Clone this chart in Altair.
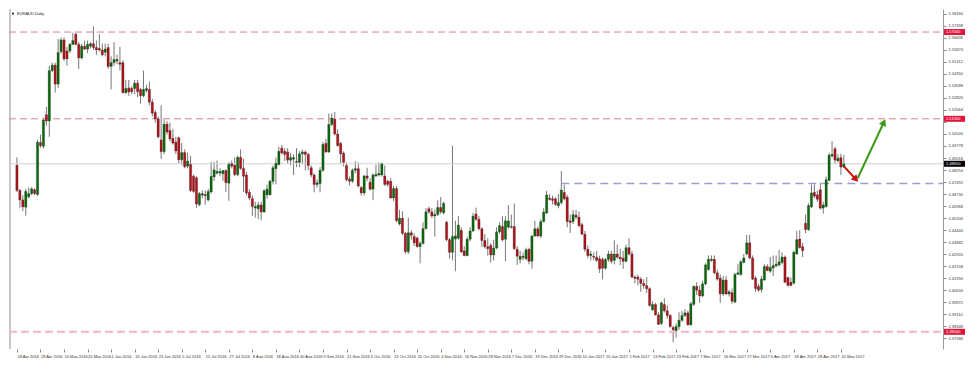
import json
import altair as alt
import pandas as pd

# ---------------- data (EURAUD daily candles) ----------------
opens = [
    1.4856, 1.4696, 1.4636, 1.4590, 1.4656, 1.4676, 1.4700, 1.4670, 1.5000, 1.4976,
    1.5176, 1.5136, 1.5456, 1.5490, 1.5370, 1.5576, 1.5650, 1.5580, 1.5580, 1.5622,
    1.5686, 1.5622, 1.5536, 1.5610, 1.5592, 1.5610, 1.5626, 1.5602, 1.5596, 1.5586,
    1.5572, 1.5602, 1.5482, 1.5506, 1.5516, 1.5506, 1.5506, 1.5316, 1.5346, 1.5342,
    1.5342, 1.5376, 1.5336, 1.5296, 1.5330, 1.5336, 1.5256, 1.5190, 1.5150, 1.5016,
    1.4942, 1.5116, 1.5076, 1.5026, 1.5002, 1.5030, 1.4890, 1.4936, 1.4850, 1.4862,
    1.4786, 1.4776, 1.4606, 1.4666, 1.4670, 1.4636, 1.4686, 1.4782, 1.4806, 1.4806,
    1.4802, 1.4822, 1.4742, 1.4866, 1.4856, 1.4796, 1.4906, 1.4836, 1.4794, 1.4684,
    1.4644, 1.4584, 1.4580, 1.4604, 1.4560, 1.4668, 1.4668, 1.4754, 1.4834, 1.4860,
    1.4964, 1.4944, 1.4940, 1.4888, 1.4894, 1.4880, 1.4874, 1.4928, 1.4940, 1.4924,
    1.4840, 1.4794, 1.4734, 1.4740, 1.4824, 1.4994, 1.4940, 1.5114, 1.5148, 1.5054,
    1.4994, 1.4932, 1.4854, 1.4768, 1.4754, 1.4824, 1.4834, 1.4714, 1.4680, 1.4788,
    1.4748, 1.4704, 1.4788, 1.4794, 1.4794, 1.4788, 1.4754, 1.4754, 1.4648, 1.4708,
    1.4484, 1.4520, 1.4424, 1.4308, 1.4428, 1.4404, 1.4394, 1.4340, 1.4360, 1.4454,
    1.4580, 1.4560, 1.4534, 1.4544, 1.4588, 1.4554, 1.4494, 1.4384, 1.4304, 1.4388,
    1.4393, 1.4443, 1.4313, 1.4283, 1.4387, 1.4439, 1.4547, 1.4513, 1.4453, 1.4379,
    1.4339, 1.4347, 1.4287, 1.4331, 1.4433, 1.4467, 1.4387, 1.4463, 1.4467, 1.4467,
    1.4323, 1.4259, 1.4279, 1.4263, 1.4323, 1.4247, 1.4407, 1.4453, 1.4407, 1.4499,
    1.4553, 1.4647, 1.4643, 1.4643, 1.4599, 1.4619, 1.4683, 1.4653, 1.4503, 1.4499,
    1.4539, 1.4527, 1.4479, 1.4419, 1.4323, 1.4283, 1.4279, 1.4273, 1.4263, 1.4259,
    1.4203, 1.4259, 1.4293, 1.4253, 1.4293, 1.4273, 1.4267, 1.4247, 1.4333, 1.4293,
    1.4147, 1.4147, 1.4133, 1.4107, 1.4093, 1.4073, 1.3939, 1.3973, 1.3907, 1.3853,
    1.3973, 1.3933, 1.3903, 1.3827, 1.3807, 1.3833, 1.3873, 1.3904, 1.3920, 1.3844,
    1.3974, 1.4088, 1.4064, 1.4028, 1.4104, 1.4194, 1.4252, 1.4260, 1.4174, 1.4140,
    1.4040, 1.4128, 1.4040, 1.4048, 1.3988, 1.4164, 1.4164, 1.4240, 1.4294, 1.4364,
    1.4268, 1.4140, 1.4088, 1.4068, 1.4128, 1.4214, 1.4184, 1.4204, 1.4218, 1.4224,
    1.4240, 1.4274, 1.4144, 1.4114, 1.4108, 1.4294, 1.4388, 1.4340, 1.4488, 1.4448,
    1.4592, 1.4684, 1.4668, 1.4700, 1.4584, 1.4594, 1.4760, 1.4914, 1.4960, 1.4884,
    1.4904, 1.4844,
]
highs = [
    1.4906, 1.4706, 1.4666, 1.4706, 1.4716, 1.4716, 1.4710, 1.5016, 1.5050, 1.5156,
    1.5226, 1.5486, 1.5506, 1.5506, 1.5656, 1.5666, 1.5666, 1.5606, 1.5630, 1.5696,
    1.5696, 1.5636, 1.5626, 1.5646, 1.5646, 1.5636, 1.5736, 1.5646, 1.5686, 1.5626,
    1.5626, 1.5626, 1.5546, 1.5636, 1.5556, 1.5606, 1.5522, 1.5396, 1.5396, 1.5356,
    1.5396, 1.5396, 1.5346, 1.5456, 1.5366, 1.5386, 1.5276, 1.5206, 1.5166, 1.5236,
    1.5146, 1.5136, 1.5126, 1.5086, 1.5036, 1.5036, 1.4996, 1.4956, 1.4936, 1.4916,
    1.4796, 1.4786, 1.4686, 1.4696, 1.4696, 1.4706, 1.4876, 1.4876, 1.4886, 1.4836,
    1.4826, 1.4830, 1.4876, 1.4886, 1.4906, 1.4916, 1.4956, 1.4896, 1.4814, 1.4704,
    1.4664, 1.4624, 1.4624, 1.4624, 1.4704, 1.4734, 1.4764, 1.4854, 1.4904, 1.4974,
    1.4984, 1.4964, 1.4964, 1.4934, 1.4924, 1.4964, 1.4944, 1.4954, 1.4948, 1.4934,
    1.4854, 1.4804, 1.4764, 1.4844, 1.5004, 1.5024, 1.5184, 1.5184, 1.5194, 1.5084,
    1.5004, 1.4944, 1.4874, 1.4784, 1.4834, 1.4880, 1.4874, 1.4724, 1.4794, 1.4840,
    1.4774, 1.4804, 1.4860, 1.4874, 1.4874, 1.4854, 1.4764, 1.4774, 1.4724, 1.4724,
    1.4574, 1.4564, 1.4434, 1.4524, 1.4444, 1.4424, 1.4404, 1.4374, 1.4494, 1.4584,
    1.4594, 1.4584, 1.4574, 1.4634, 1.4654, 1.4624, 1.4504, 1.4394, 1.4980, 1.4504,
    1.4533, 1.4463, 1.4343, 1.4403, 1.4463, 1.4553, 1.4587, 1.4533, 1.4463, 1.4419,
    1.4393, 1.4363, 1.4383, 1.4463, 1.4493, 1.4533, 1.4533, 1.4603, 1.4543, 1.4613,
    1.4343, 1.4313, 1.4303, 1.4333, 1.4333, 1.4413, 1.4503, 1.4467, 1.4513, 1.4583,
    1.4693, 1.4673, 1.4663, 1.4653, 1.4673, 1.4819, 1.4733, 1.4667, 1.4543, 1.4573,
    1.4573, 1.4563, 1.4493, 1.4439, 1.4347, 1.4313, 1.4303, 1.4313, 1.4283, 1.4273,
    1.4267, 1.4313, 1.4313, 1.4379, 1.4353, 1.4327, 1.4313, 1.4353, 1.4393, 1.4313,
    1.4159, 1.4163, 1.4147, 1.4133, 1.4147, 1.4083, 1.3993, 1.3983, 1.3923, 1.3993,
    1.4013, 1.3967, 1.3913, 1.3839, 1.3853, 1.3923, 1.3933, 1.3944, 1.3934, 1.3988,
    1.4094, 1.4114, 1.4094, 1.4124, 1.4234, 1.4284, 1.4284, 1.4284, 1.4194, 1.4164,
    1.4154, 1.4154, 1.4064, 1.4074, 1.4174, 1.4228, 1.4254, 1.4294, 1.4414, 1.4414,
    1.4284, 1.4154, 1.4104, 1.4154, 1.4228, 1.4228, 1.4274, 1.4284, 1.4284, 1.4320,
    1.4304, 1.4284, 1.4148, 1.4144, 1.4314, 1.4440, 1.4444, 1.4364, 1.4544, 1.4614,
    1.4734, 1.4734, 1.4694, 1.4744, 1.4624, 1.4784, 1.4934, 1.5008, 1.4974, 1.4924,
    1.4928, 1.4920,
]
lows = [
    1.4686, 1.4586, 1.4566, 1.4536, 1.4646, 1.4666, 1.4666, 1.4662, 1.4966, 1.4962,
    1.5106, 1.5036, 1.5446, 1.5316, 1.5346, 1.5562, 1.5516, 1.5486, 1.5566, 1.5616,
    1.5616, 1.5466, 1.5526, 1.5586, 1.5566, 1.5596, 1.5586, 1.5556, 1.5576, 1.5546,
    1.5546, 1.5466, 1.5336, 1.5486, 1.5496, 1.5456, 1.5310, 1.5306, 1.5296, 1.5306,
    1.5306, 1.5286, 1.5246, 1.5286, 1.5316, 1.5236, 1.5166, 1.5126, 1.5026, 1.4896,
    1.4926, 1.5050, 1.5006, 1.4986, 1.4926, 1.4866, 1.4856, 1.4836, 1.4836, 1.4686,
    1.4682, 1.4586, 1.4596, 1.4646, 1.4606, 1.4626, 1.4676, 1.4756, 1.4796, 1.4786,
    1.4756, 1.4686, 1.4630, 1.4836, 1.4786, 1.4786, 1.4826, 1.4686, 1.4664, 1.4634,
    1.4534, 1.4524, 1.4514, 1.4508, 1.4554, 1.4644, 1.4664, 1.4734, 1.4734, 1.4854,
    1.4924, 1.4884, 1.4864, 1.4854, 1.4794, 1.4844, 1.4844, 1.4864, 1.4824, 1.4824,
    1.4780, 1.4684, 1.4714, 1.4684, 1.4814, 1.4934, 1.4934, 1.5104, 1.5044, 1.4974,
    1.4864, 1.4848, 1.4754, 1.4728, 1.4744, 1.4804, 1.4714, 1.4664, 1.4664, 1.4754,
    1.4694, 1.4634, 1.4780, 1.4784, 1.4784, 1.4724, 1.4720, 1.4644, 1.4628, 1.4494,
    1.4474, 1.4414, 1.4294, 1.4294, 1.4384, 1.4344, 1.4334, 1.4234, 1.4354, 1.4448,
    1.4548, 1.4520, 1.4404, 1.4534, 1.4548, 1.4544, 1.4374, 1.4264, 1.4254, 1.4184,
    1.4383, 1.4299, 1.4279, 1.4279, 1.4373, 1.4433, 1.4503, 1.4443, 1.4339, 1.4327,
    1.4283, 1.4239, 1.4253, 1.4323, 1.4423, 1.4373, 1.4247, 1.4453, 1.4453, 1.4319,
    1.4223, 1.4233, 1.4253, 1.4253, 1.4227, 1.4199, 1.4403, 1.4399, 1.4393, 1.4493,
    1.4547, 1.4633, 1.4607, 1.4599, 1.4583, 1.4607, 1.4633, 1.4463, 1.4427, 1.4483,
    1.4513, 1.4463, 1.4413, 1.4307, 1.4267, 1.4253, 1.4253, 1.4243, 1.4173, 1.4133,
    1.4193, 1.4243, 1.4233, 1.4227, 1.4263, 1.4223, 1.4199, 1.4239, 1.4283, 1.4139,
    1.4107, 1.4093, 1.4053, 1.4073, 1.4047, 1.3959, 1.3933, 1.3903, 1.3843, 1.3843,
    1.3923, 1.3883, 1.3827, 1.3733, 1.3763, 1.3813, 1.3863, 1.3894, 1.3840, 1.3840,
    1.3964, 1.4034, 1.3984, 1.4020, 1.4094, 1.4188, 1.4244, 1.4164, 1.4124, 1.3984,
    1.4028, 1.4034, 1.4024, 1.3978, 1.3984, 1.4160, 1.4154, 1.4234, 1.4284, 1.4260,
    1.4128, 1.4054, 1.4054, 1.4048, 1.4124, 1.4184, 1.4174, 1.4154, 1.4208, 1.4214,
    1.4228, 1.4108, 1.4088, 1.4088, 1.4100, 1.4288, 1.4328, 1.4274, 1.4424, 1.4440,
    1.4584, 1.4648, 1.4624, 1.4574, 1.4548, 1.4588, 1.4754, 1.4904, 1.4864, 1.4874,
    1.4794, 1.4840,
]
closes = [
    1.4696, 1.4636, 1.4592, 1.4690, 1.4676, 1.4706, 1.4676, 1.5002, 1.4980, 1.5142,
    1.5136, 1.5456, 1.5490, 1.5370, 1.5570, 1.5650, 1.5530, 1.5530, 1.5622, 1.5646,
    1.5622, 1.5536, 1.5610, 1.5592, 1.5622, 1.5626, 1.5602, 1.5586, 1.5586, 1.5556,
    1.5592, 1.5482, 1.5506, 1.5526, 1.5526, 1.5496, 1.5316, 1.5342, 1.5320, 1.5322,
    1.5376, 1.5322, 1.5296, 1.5336, 1.5342, 1.5256, 1.5186, 1.5150, 1.5036, 1.4942,
    1.5116, 1.5066, 1.5022, 1.4996, 1.4946, 1.4890, 1.4936, 1.4846, 1.4882, 1.4696,
    1.4690, 1.4610, 1.4676, 1.4676, 1.4662, 1.4690, 1.4786, 1.4826, 1.4816, 1.4816,
    1.4822, 1.4746, 1.4862, 1.4850, 1.4796, 1.4906, 1.4836, 1.4786, 1.4680, 1.4648,
    1.4594, 1.4594, 1.4604, 1.4560, 1.4694, 1.4704, 1.4754, 1.4840, 1.4868, 1.4944,
    1.4934, 1.4924, 1.4888, 1.4904, 1.4904, 1.4874, 1.4928, 1.4940, 1.4924, 1.4854,
    1.4794, 1.4734, 1.4744, 1.4824, 1.4988, 1.4940, 1.5114, 1.5154, 1.5054, 1.4980,
    1.4928, 1.4874, 1.4764, 1.4754, 1.4824, 1.4834, 1.4724, 1.4680, 1.4788, 1.4774,
    1.4704, 1.4794, 1.4798, 1.4804, 1.4864, 1.4734, 1.4734, 1.4648, 1.4708, 1.4504,
    1.4520, 1.4424, 1.4308, 1.4428, 1.4412, 1.4364, 1.4340, 1.4360, 1.4454, 1.4560,
    1.4560, 1.4534, 1.4544, 1.4588, 1.4560, 1.4614, 1.4384, 1.4304, 1.4404, 1.4408,
    1.4477, 1.4307, 1.4283, 1.4387, 1.4439, 1.4533, 1.4513, 1.4453, 1.4379, 1.4339,
    1.4327, 1.4287, 1.4331, 1.4433, 1.4473, 1.4383, 1.4503, 1.4503, 1.4463, 1.4327,
    1.4279, 1.4279, 1.4271, 1.4319, 1.4247, 1.4407, 1.4453, 1.4407, 1.4499, 1.4559,
    1.4667, 1.4639, 1.4633, 1.4607, 1.4619, 1.4699, 1.4643, 1.4499, 1.4493, 1.4543,
    1.4527, 1.4473, 1.4419, 1.4323, 1.4283, 1.4293, 1.4273, 1.4253, 1.4199, 1.4203,
    1.4259, 1.4293, 1.4247, 1.4293, 1.4273, 1.4263, 1.4247, 1.4333, 1.4293, 1.4147,
    1.4139, 1.4133, 1.4107, 1.4093, 1.4073, 1.3967, 1.3973, 1.3907, 1.3847, 1.3983,
    1.3933, 1.3903, 1.3833, 1.3813, 1.3833, 1.3873, 1.3903, 1.3920, 1.3844, 1.3978,
    1.4088, 1.4064, 1.4028, 1.4104, 1.4224, 1.4260, 1.4260, 1.4174, 1.4134, 1.4040,
    1.4128, 1.4040, 1.4054, 1.3994, 1.4164, 1.4174, 1.4244, 1.4268, 1.4364, 1.4268,
    1.4134, 1.4074, 1.4064, 1.4134, 1.4214, 1.4188, 1.4208, 1.4220, 1.4228, 1.4244,
    1.4274, 1.4114, 1.4094, 1.4094, 1.4304, 1.4384, 1.4334, 1.4314, 1.4448, 1.4600,
    1.4680, 1.4660, 1.4640, 1.4584, 1.4604, 1.4764, 1.4920, 1.4924, 1.4888, 1.4900,
    1.4844, 1.4865,
]

date_labels = [
    "18 Apr 2016", "28 Apr 2016", "10 May 2016", "20 May 2016", "1 Jun 2016",
    "13 Jun 2016", "23 Jun 2016", "5 Jul 2016", "15 Jul 2016", "27 Jul 2016",
    "8 Aug 2016", "18 Aug 2016", "30 Aug 2016", "9 Sep 2016", "21 Sep 2016",
    "3 Oct 2016", "13 Oct 2016", "25 Oct 2016", "4 Nov 2016", "16 Nov 2016",
    "28 Nov 2016", "7 Dec 2016", "19 Dec 2016", "29 Dec 2016", "10 Jan 2017",
    "20 Jan 2017", "1 Feb 2017", "13 Feb 2017", "23 Feb 2017", "7 Mar 2017",
    "16 Mar 2017", "27 Mar 2017", "6 Apr 2017", "18 Apr 2017", "28 Apr 2017",
    "10 May 2017",
]
bars_per_label = 8

price_ticks = [
    1.58160, 1.57398, 1.56636, 1.55874, 1.55112, 1.54350, 1.53588, 1.52826,
    1.52064, 1.51302, 1.50540, 1.49778, 1.49016, 1.48254, 1.47492, 1.46730,
    1.45968, 1.45206, 1.44444, 1.43682, 1.42920, 1.42158, 1.41396, 1.40634,
    1.39872, 1.39110, 1.38348, 1.37586,
]

resistance_levels = [1.5700, 1.5150]
bottom_level = 1.3800
current_price = 1.4865
support_level = 1.4740
support_from_bar = 185

tag_prices = [1.5700, 1.5150, 1.3800, 1.4865]
tag_colors = ["#e0163c", "#e0163c", "#e0163c", "#000000"]

arrow_x0 = [281.1, 285.7]
arrow_x1 = [285.1, 294.6]
arrow_y0 = [1.4847, 1.4773]
arrow_y1 = [1.4767, 1.5128]
arrow_colors = ["#cc1111", "#3c9a16"]
arrow_angles = [136, 25]

symbol_title = "EURAUD,Daily"

# ---------------- layout ----------------
W, H = 934, 340
FONT = "Liberation Sans"
FS = 4.0
xs = alt.Scale(domain=[-1, 313], nice=False, zero=False)
ys = alt.Scale(domain=[1.3691, 1.5846], nice=False, zero=False)

n = len(closes)
assert len(opens) == len(highs) == len(lows) == n
bars = pd.DataFrame({"bar": list(range(n)), "open": opens, "high": highs,
                     "low": lows, "close": closes})

label_expr = "%s[round(datum.value / %d)]" % (json.dumps(date_labels), bars_per_label)
# a price label that sits under one of the coloured tags is covered by it
covered = " || ".join("abs(datum.value - %s) < 0.003" % p for p in tag_prices)
y_label_expr = "(%s) ? '' : format(datum.value, '.5f')" % covered

x_axis = alt.Axis(
    orient="bottom", values=[k * bars_per_label for k in range(len(date_labels))],
    labelExpr=label_expr, labelAlign="left", labelFontSize=FS, labelFont=FONT,
    labelColor="#333333", labelPadding=2, labelOverlap=False, labelFlush=False,
    tickSize=3, tickColor="#888888", domain=False, grid=False, title=None,
)
y_axis = alt.Axis(
    orient="right", values=price_ticks, labelExpr=y_label_expr, labelFontSize=FS,
    labelFont=FONT, labelColor="#333333", labelAlign="left", labelPadding=2,
    labelOverlap=False, labelFlush=False, tickSize=3, tickColor="#888888",
    domainColor="#9a9a9a", grid=False, title=None,
)


def X(field):
    return alt.X(field, scale=xs, axis=x_axis)


def Y(field):
    return alt.Y(field, scale=ys, axis=y_axis)


base = alt.Chart(bars)
wicks = base.mark_rule(color="#777777", strokeWidth=1).encode(
    x=X("bar:Q"), y=Y("low:Q"), y2="high:Q",
)
bodies = base.mark_bar(size=2.3, stroke="#1a1a1a", strokeWidth=0.25).encode(
    x=X("bar:Q"), y=Y("open:Q"), y2="close:Q",
    color=alt.condition("datum.close >= datum.open",
                        alt.value("#0b6b0b"), alt.value("#b3131b")),
)

res_lines = alt.Chart(pd.DataFrame({"price": resistance_levels})).mark_rule(
    color="#d9808d", strokeWidth=1, strokeDash=[7, 4]
).encode(y=Y("price:Q"), x=alt.value(0), x2=alt.value(W))

bottom_line = alt.Chart(pd.DataFrame({"price": [bottom_level]})).mark_rule(
    color="#f2b6c2", strokeWidth=2, strokeDash=[8, 4]
).encode(y=Y("price:Q"), x=alt.value(0), x2=alt.value(W))

current_line = alt.Chart(pd.DataFrame({"price": [current_price]})).mark_rule(
    color="#d2d2d2", strokeWidth=1
).encode(y=Y("price:Q"), x=alt.value(0), x2=alt.value(W))

support_line = alt.Chart(pd.DataFrame({"bar": [support_from_bar], "price": [support_level]})).mark_rule(
    color="#9c9cd8", strokeWidth=1.5, strokeDash=[8, 5]
).encode(x=X("bar:Q"), x2=alt.value(W), y=Y("price:Q"))

left_border = alt.Chart(pd.DataFrame({"k": [0]})).mark_rule(
    color="#c8c8c8", strokeWidth=2
).encode(x=alt.value(1), y=alt.value(0), y2=alt.value(H))

tags_df = pd.DataFrame({"price": tag_prices, "fill": tag_colors})
tag_base = alt.Chart(tags_df).transform_calculate(
    lo="datum.price - 0.0019", hi="datum.price + 0.0019",
    label="format(datum.price, '.5f')",
)
tag_boxes = tag_base.mark_rect().encode(
    x=alt.value(W + 1), x2=alt.value(W + 22),
    y=Y("lo:Q"), y2="hi:Q",
    color=alt.Color("fill:N", scale=None),
)
tag_texts = tag_base.mark_text(color="white", fontSize=FS, font=FONT, align="left",
                               baseline="middle").encode(
    x=alt.value(W + 3), y=Y("price:Q"), text="label:N",
)

arrows_df = pd.DataFrame({"x0": arrow_x0, "x1": arrow_x1, "y0": arrow_y0,
                          "y1": arrow_y1, "c": arrow_colors, "a": arrow_angles})
shafts = alt.Chart(arrows_df).mark_rule(strokeWidth=2).encode(
    x=X("x0:Q"), x2="x1:Q", y=Y("y0:Q"), y2="y1:Q",
    color=alt.Color("c:N", scale=None),
)
heads = alt.Chart(arrows_df).mark_point(shape="triangle-up", filled=True, size=60, opacity=1).encode(
    x=X("x1:Q"), y=Y("y1:Q"),
    color=alt.Color("c:N", scale=None),
    angle=alt.Angle("a:Q", scale=None),
)

title_df = pd.DataFrame({"t": [symbol_title]})
title_mark = alt.Chart(title_df).mark_text(fontSize=FS, font=FONT, align="left",
                                           baseline="middle", color="#222222").encode(
    x=alt.value(8), y=alt.value(5), text="t:N")
title_tri = alt.Chart(title_df).mark_point(shape="triangle-down", filled=True, size=7,
                                           color="#111111", opacity=1).encode(
    x=alt.value(4), y=alt.value(5))

chart = alt.layer(
    wicks, left_border, res_lines, bottom_line, current_line, support_line,
    bodies, shafts, heads, tag_boxes, tag_texts, title_tri, title_mark,
).properties(
    width=W, height=H, background="white",
    padding={"left": 0, "top": 0, "right": 0, "bottom": 0},
).configure_view(stroke=None)

chart.save("out.html", embed_options={"renderer": "svg", "actions": False})
